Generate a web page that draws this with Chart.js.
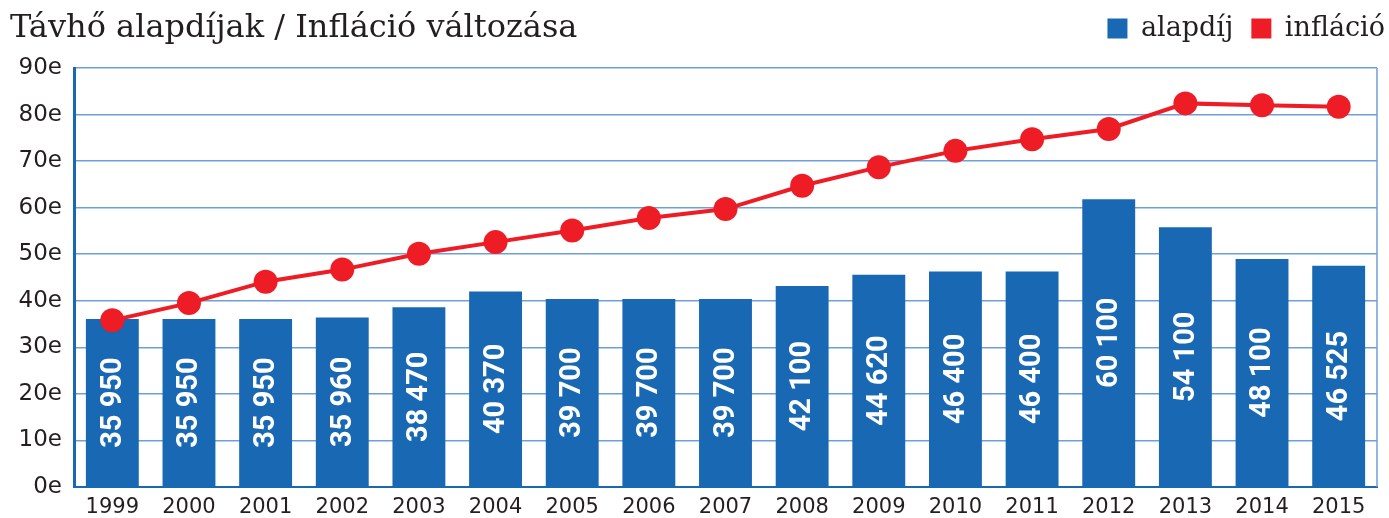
<!DOCTYPE html>
<html lang="hu">
<head>
<meta charset="utf-8">
<script src="https://cdn.jsdelivr.net/npm/chart.js@4/dist/chart.umd.min.js"></script>
<style>
  body { margin: 0; background: #fff; }
  #doboz { position: relative; width: 1389px; height: 518px; }
</style>
</head>
<body>
<div id="doboz"><canvas id="grafikon"></canvas></div>
<script>
// adatok (ezer Ft, "e")
const evek = ["1999", "2000", "2001", "2002", "2003", "2004", "2005", "2006", "2007",
  "2008", "2009", "2010", "2011", "2012", "2013", "2014", "2015"];
const alapdij = [36.1, 36.1, 36.1, 36.4, 38.6, 42.0, 40.4, 40.4, 40.4,
  43.2, 45.6, 46.3, 46.3, 61.8, 55.8, 49.0, 47.5];
const alapdijCimkek = ["35 950", "35 950", "35 950", "35 960", "38 470", "40 370", "39 700", "39 700", "39 700",
  "42 100", "44 620", "46 400", "46 400", "60 100", "54 100", "48 100", "46 525"];
const inflacio = [35.8, 39.5, 44.1, 46.7, 50.1, 52.6, 55.1, 57.8, 59.7,
  64.7, 68.7, 72.2, 74.7, 76.9, 82.4, 82.0, 81.7];
const yTickek = [0, 10, 20, 30, 40, 50, 60, 70, 80, 90];

const KEK = "#1868b4";
const PIROS = "#ee1c25";
const SZOVEG = "#231f20";

// feliratok az oszlopokba, elforgatva
const oszlopFeliratok = {
  id: "oszlopFeliratok",
  afterDatasetsDraw(chart) {
    const ctx = chart.ctx;
    const meta = chart.getDatasetMeta(1);
    ctx.save();
    ctx.fillStyle = "#fff";
    ctx.font = "bold 29px Roboto, 'Open Sans', sans-serif";
    ctx.textAlign = "center";
    ctx.textBaseline = "middle";
    meta.data.forEach((el, i) => {
      const kozep = (el.y + el.base) / 2;
      ctx.save();
      ctx.translate(el.x, kozep);
      ctx.rotate(-Math.PI / 2);
      ctx.fillText(alapdijCimkek[i], 0, 1);
      ctx.restore();
    });
    ctx.restore();
  }
};

// jelmagyarázat feljebb és jobbra tolva, egy sorba a címmel
const jelmagyarazatHely = {
  id: "jelmagyarazatHely",
  afterLayout(chart) {
    const l = chart.legend;
    if (!l) return;
    l.top -= 16; l.bottom -= 16;
    l.left += 18; l.right += 18;
  }
};

// cím bal fent + jobb oldali keret
const cimEsKeret = {
  id: "cimEsKeret",
  afterDraw(chart) {
    const ctx = chart.ctx;
    const a = chart.chartArea;
    ctx.save();
    ctx.strokeStyle = "#6f9fd8";
    ctx.lineWidth = 1.5;
    ctx.beginPath();
    ctx.moveTo(a.right, a.top);
    ctx.lineTo(a.right, a.bottom);
    ctx.stroke();
    ctx.fillStyle = SZOVEG;
    ctx.font = "32px 'DejaVu Serif', 'Liberation Serif', serif";
    ctx.textAlign = "left";
    ctx.textBaseline = "alphabetic";
    ctx.fillText("Távhő alapdíjak / Infláció változása", 10, 37);
    ctx.restore();
  }
};

new Chart(document.getElementById("grafikon"), {
  data: {
    labels: evek,
    datasets: [
      {
        type: "line",
        label: "infláció",
        data: inflacio,
        borderColor: PIROS,
        backgroundColor: PIROS,
        borderWidth: 4,
        pointRadius: 12,
        pointHoverRadius: 12,
        pointBackgroundColor: PIROS,
        pointBorderWidth: 0,
        tension: 0,
        order: 0
      },
      {
        type: "bar",
        label: "alapdíj",
        data: alapdij,
        backgroundColor: KEK,
        barPercentage: 0.69,
        categoryPercentage: 1,
        order: 1
      }
    ]
  },
  options: {
    responsive: true,
    maintainAspectRatio: false,
    animation: false,
    layout: { padding: { top: 13, right: 4, left: 0, bottom: 0 } },
    plugins: {
      legend: {
        position: "top",
        align: "end",
        reverse: true,
        labels: {
          boxWidth: 20,
          boxHeight: 20,
          padding: 18,
          color: SZOVEG,
          font: { family: "'DejaVu Serif', 'Liberation Serif', serif", size: 27 },
          generateLabels(chart) {
            const alap = Chart.defaults.plugins.legend.labels.generateLabels(chart);
            return alap.map(l => Object.assign(l, { lineWidth: 0, strokeStyle: "transparent" }));
          }
        }
      },
      tooltip: { enabled: false }
    },
    scales: {
      x: {
        grid: { display: false, drawTicks: false },
        border: { display: true, color: KEK, width: 2 },
        ticks: {
          color: SZOVEG,
          padding: 8,
          maxRotation: 0,
          font: { family: "'DejaVu Sans', sans-serif", size: 21 }
        },
        afterFit(scale) { scale.height = 31; }
      },
      y: {
        min: 0,
        max: 90,
        afterBuildTicks(scale) { scale.ticks = yTickek.map(v => ({ value: v })); },
        grid: { color: "#6f9fd8", lineWidth: 1.5, drawTicks: false },
        border: { display: true, color: KEK, width: 3 },
        ticks: {
          color: SZOVEG,
          padding: 12,
          font: { family: "'DejaVu Sans', sans-serif", size: 23 },
          callback: v => v + "e"
        },
        afterFit(scale) { scale.width = 74; }
      }
    }
  },
  plugins: [oszlopFeliratok, jelmagyarazatHely, cimEsKeret]
});
</script>
</body>
</html>
